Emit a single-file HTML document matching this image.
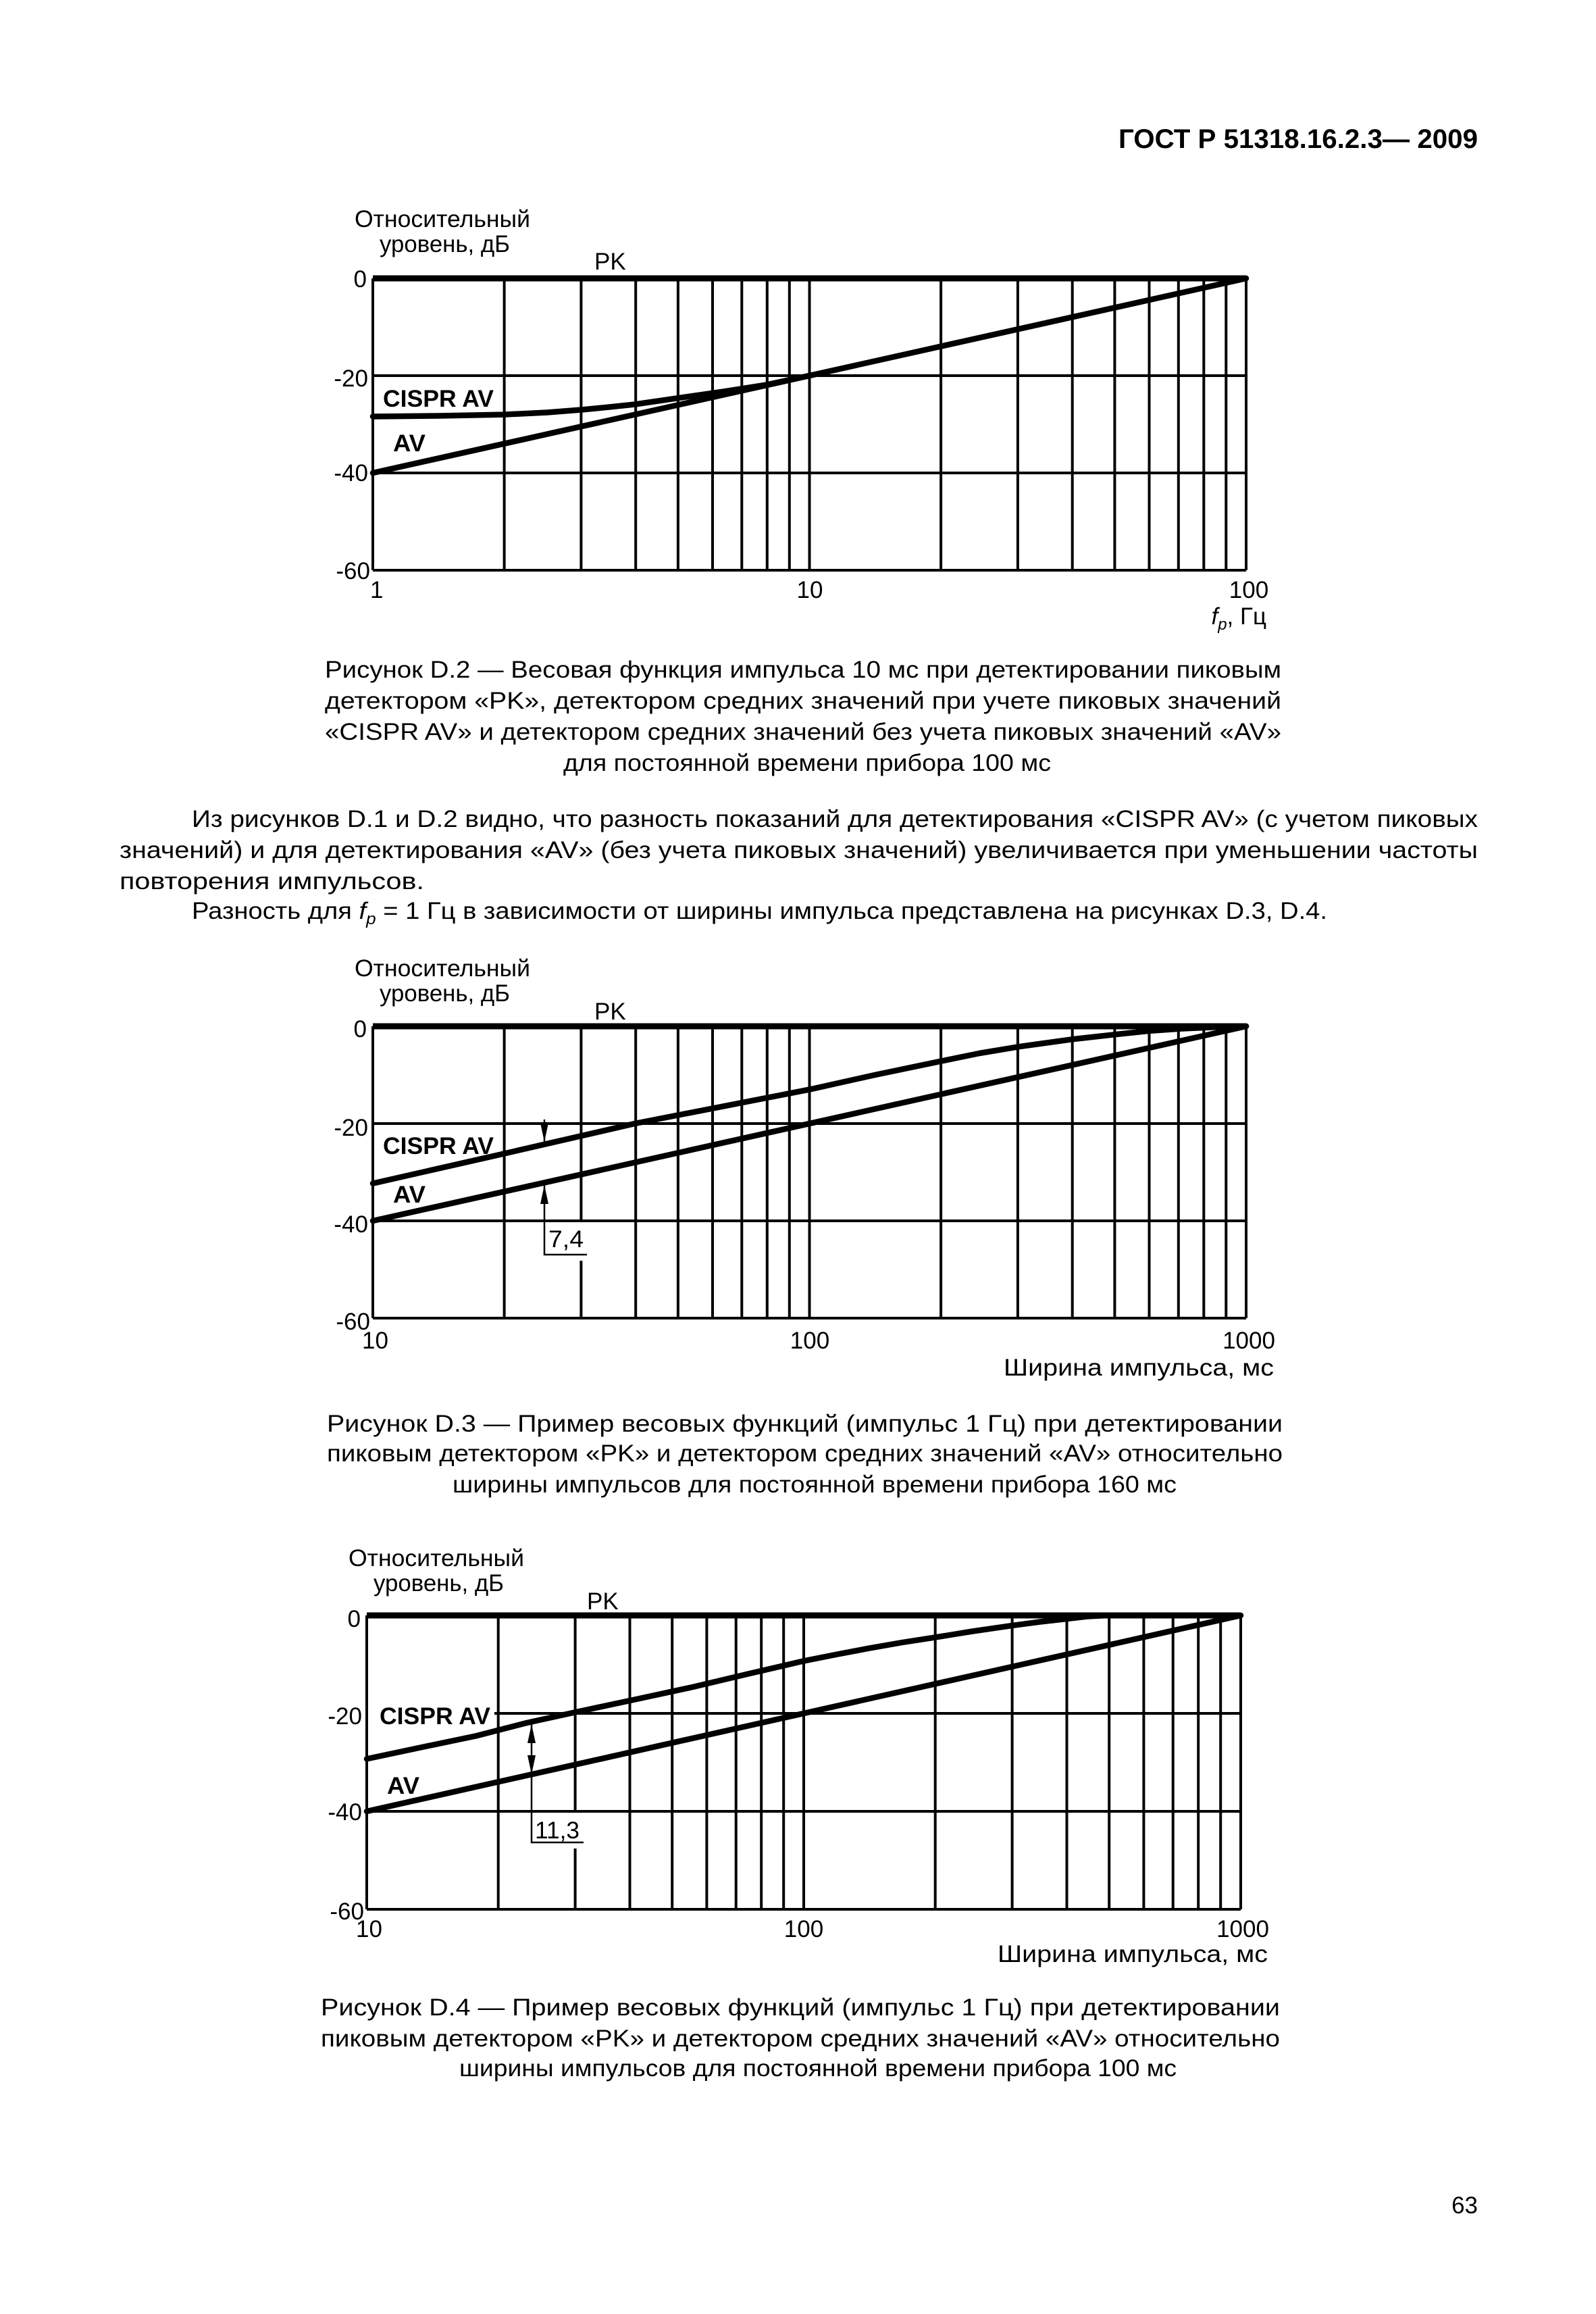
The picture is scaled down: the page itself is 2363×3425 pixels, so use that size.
<!DOCTYPE html>
<html><head><meta charset="utf-8"><style>
html,body{margin:0;padding:0;background:#fff;}
svg{display:block;}
text{font-family:"Liberation Sans",Arial,sans-serif;fill:#000;}
.t{font-size:35px;}
.b{font-weight:bold;}
.g{stroke:#000;stroke-width:4;fill:none;}
.pk{stroke:#000;stroke-width:9;fill:none;}
.c{stroke:#000;stroke-width:8.5;fill:none;stroke-linejoin:round;stroke-linecap:round;}
.a{stroke:#000;stroke-width:2.5;fill:none;}
</style></head><body>
<svg width="2363" height="3425" viewBox="0 0 2363 3425" xmlns="http://www.w3.org/2000/svg">
<rect width="2363" height="3425" fill="#fff"/>
<text x="2188" y="219" text-anchor="end" class="b" font-size="40" textLength="532" lengthAdjust="spacingAndGlyphs">ГОСТ Р 51318.16.2.3— 2009</text>

<!-- CHART 1 -->
<g>
<path class="g" d="M746.6 412V844M860.4 412V844M941.2 412V844M1003.9 412V844M1055 412V844M1098.3 412V844M1135.8 412V844M1168.8 412V844M1198.5 412V844M1393.1 412V844M1506.9 412V844M1587.7 412V844M1650.4 412V844M1701.5 412V844M1744.8 412V844M1782.3 412V844M1815.3 412V844M1845 412V844"/>
<path class="g" d="M552 556H1845M552 700H1845M552 844H1845M552 412V844"/>
<path class="pk" d="M552 412H1845"/>
<path class="c" d="M552 700L1845 412"/>
<polyline class="c" points="552,616.5 650,615.5 746,613.6 810,610.5 862.3,606.4 902,602.5 939.9,598.5 1004.6,589.1 1069.2,579.8 1133.9,569.7 1198.5,556"/>
<text x="525" y="336" class="t" textLength="260" lengthAdjust="spacingAndGlyphs">Относительный</text>
<text x="562" y="373" class="t" textLength="193" lengthAdjust="spacingAndGlyphs">уровень, дБ</text>
<text x="880" y="399" class="t">PK</text>
<text x="543" y="425" class="t" text-anchor="end">0</text>
<text x="545" y="572" class="t" text-anchor="end">-20</text>
<text x="545" y="712" class="t" text-anchor="end">-40</text>
<text x="548" y="857" class="t" text-anchor="end">-60</text>
<text x="548" y="885" class="t">1</text>
<text x="1199" y="885" class="t" text-anchor="middle">10</text>
<text x="1849" y="885" class="t" text-anchor="middle">100</text>
<text x="1875" y="924" class="t" text-anchor="end"><tspan font-style="italic">f</tspan><tspan font-size="24" font-style="italic" dy="8">p</tspan><tspan dy="-8">, Гц</tspan></text>
<text x="567" y="602" class="t b" textLength="164" lengthAdjust="spacingAndGlyphs">CISPR AV</text>
<text x="582" y="668" class="t b" textLength="48" lengthAdjust="spacingAndGlyphs">AV</text>
</g>

<text x="481" y="1003" class="t" textLength="1416" lengthAdjust="spacingAndGlyphs">Рисунок D.2 — Весовая функция импульса 10 мс при детектировании пиковым</text>
<text x="481" y="1049" class="t" textLength="1416" lengthAdjust="spacingAndGlyphs">детектором «PK», детектором средних значений при учете пиковых значений</text>
<text x="481" y="1095" class="t" textLength="1416" lengthAdjust="spacingAndGlyphs">«CISPR AV» и  детектором  средних  значений без учета пиковых значений «AV»</text>
<text x="834" y="1141" class="t" textLength="722" lengthAdjust="spacingAndGlyphs">для постоянной времени прибора 100 мс</text>

<text x="284" y="1224" class="t" textLength="1904" lengthAdjust="spacingAndGlyphs">Из рисунков D.1 и D.2 видно,  что   разность показаний для детектирования «CISPR AV» (с учетом пиковых</text>
<text x="177" y="1270" class="t" textLength="2011" lengthAdjust="spacingAndGlyphs">значений) и для детектирования «AV» (без учета пиковых значений) увеличивается при уменьшении частоты</text>
<text x="177" y="1316" class="t" textLength="451" lengthAdjust="spacingAndGlyphs">повторения импульсов.</text>
<text x="284" y="1360" class="t" textLength="1681" lengthAdjust="spacingAndGlyphs">Разность для <tspan font-style="italic">f</tspan><tspan font-size="24" font-style="italic" dy="8">p</tspan><tspan dy="-8"> = 1 Гц в зависимости от ширины импульса представлена на рисунках D.3,  D.4.</tspan></text>

<!-- CHART 2 -->
<g>
<path class="g" d="M746.6 1519V1951M941.2 1519V1951M1003.9 1519V1951M1055 1519V1951M1098.3 1519V1951M1135.8 1519V1951M1168.8 1519V1951M1198.5 1519V1951M1393.1 1519V1951M1506.9 1519V1951M1587.7 1519V1951M1650.4 1519V1951M1701.5 1519V1951M1744.8 1519V1951M1782.3 1519V1951M1815.3 1519V1951M1845 1519V1951"/>
<path class="g" d="M860.4 1519V1807M860.4 1866V1951"/>
<path class="g" d="M552 1663H1845M552 1807H1845M552 1951H1845M552 1519V1951"/>
<path class="pk" d="M552 1519H1845"/>
<path class="c" d="M552 1807L1845 1519"/>
<polyline class="c" points="552,1751.6 746,1707.6 939.9,1663 1069.2,1637.8 1198.5,1612.6 1295.5,1591 1392.5,1570.8 1450,1559 1508.8,1549.2 1586.4,1538.4 1651,1531.2 1700,1526 1748,1522.6 1800,1520.3 1845,1519"/>
<path class="a" d="M806 1657V1690M806 1752V1857H869"/>
<path d="M800 1662L806 1690L812 1662Z" fill="#000"/>
<path d="M800 1782L806 1754L812 1782Z" fill="#000"/>
<text x="812" y="1846" class="t" textLength="52" lengthAdjust="spacingAndGlyphs">7,4</text>
<text x="525" y="1445" class="t" textLength="260" lengthAdjust="spacingAndGlyphs">Относительный</text>
<text x="562" y="1482" class="t" textLength="193" lengthAdjust="spacingAndGlyphs">уровень, дБ</text>
<text x="880" y="1509" class="t">PK</text>
<text x="543" y="1535" class="t" text-anchor="end">0</text>
<text x="545" y="1681" class="t" text-anchor="end">-20</text>
<text x="545" y="1824" class="t" text-anchor="end">-40</text>
<text x="548" y="1968" class="t" text-anchor="end">-60</text>
<text x="536" y="1996" class="t">10</text>
<text x="1199" y="1996" class="t" text-anchor="middle">100</text>
<text x="1849" y="1996" class="t" text-anchor="middle">1000</text>
<text x="1886" y="2036" class="t" text-anchor="end" textLength="400" lengthAdjust="spacingAndGlyphs">Ширина импульса, мс</text>
<text x="567" y="1708" class="t b" textLength="164" lengthAdjust="spacingAndGlyphs">CISPR AV</text>
<text x="582" y="1780" class="t b" textLength="48" lengthAdjust="spacingAndGlyphs">AV</text>
</g>

<text x="484" y="2119" class="t" textLength="1415" lengthAdjust="spacingAndGlyphs">Рисунок D.3 — Пример весовых функций (импульс 1 Гц) при детектировании</text>
<text x="484" y="2163" class="t" textLength="1415" lengthAdjust="spacingAndGlyphs">пиковым  детектором «PK» и детектором средних значений «AV» относительно</text>
<text x="670" y="2209" class="t" textLength="1072" lengthAdjust="spacingAndGlyphs">ширины импульсов для постоянной времени прибора 160 мс</text>

<!-- CHART 3 -->
<g>
<path class="g" d="M737.7 2391V2826M932.5 2391V2826M995.2 2391V2826M1046.4 2391V2826M1089.7 2391V2826M1127.2 2391V2826M1160.2 2391V2826M1190 2391V2826M1384.7 2391V2826M1498.6 2391V2826M1579.5 2391V2826M1642.2 2391V2826M1693.4 2391V2826M1736.7 2391V2826M1774.2 2391V2826M1807.2 2391V2826M1837 2391V2826"/>
<path class="g" d="M851.6 2391V2681M851.6 2736V2826"/>
<path class="g" d="M732 2536H1837M543 2681H1837M543 2826H1837M543 2391V2826"/>
<path class="pk" d="M543 2391H1837"/>
<path class="c" d="M543 2681L1837 2391"/>
<polyline class="c" points="543,2603.4 625,2586 704.8,2569.4 780,2550 850.3,2534.6 940,2515.5 1023,2497.6 1110,2477 1190,2458.4 1240,2448.5 1287,2439.6 1336,2431 1384.1,2423.6 1440,2414.5 1497.3,2406.2 1540,2400.5 1578.6,2396.1 1610,2392.5 1640,2391"/>
<path class="a" d="M787 2552V2727H864"/>
<path d="M781 2580L787 2552L793 2580Z" fill="#000"/>
<path d="M781 2598L787 2626L793 2598Z" fill="#000"/>
<text x="792" y="2721" class="t" textLength="66" lengthAdjust="spacingAndGlyphs">11,3</text>
<text x="516" y="2318" class="t" textLength="260" lengthAdjust="spacingAndGlyphs">Относительный</text>
<text x="553" y="2355" class="t" textLength="193" lengthAdjust="spacingAndGlyphs">уровень, дБ</text>
<text x="869" y="2382" class="t">PK</text>
<text x="534" y="2408" class="t" text-anchor="end">0</text>
<text x="536" y="2552" class="t" text-anchor="end">-20</text>
<text x="536" y="2694" class="t" text-anchor="end">-40</text>
<text x="539" y="2841" class="t" text-anchor="end">-60</text>
<text x="527" y="2867" class="t">10</text>
<text x="1190" y="2867" class="t" text-anchor="middle">100</text>
<text x="1840" y="2867" class="t" text-anchor="middle">1000</text>
<text x="1877" y="2904" class="t" text-anchor="end" textLength="400" lengthAdjust="spacingAndGlyphs">Ширина импульса, мс</text>
<text x="562" y="2552" class="t b" textLength="164" lengthAdjust="spacingAndGlyphs">CISPR AV</text>
<text x="573" y="2655" class="t b" textLength="48" lengthAdjust="spacingAndGlyphs">AV</text>
</g>

<text x="475" y="2983" class="t" textLength="1420" lengthAdjust="spacingAndGlyphs">Рисунок D.4 — Пример весовых функций (импульс 1 Гц) при детектировании</text>
<text x="475" y="3029" class="t" textLength="1420" lengthAdjust="spacingAndGlyphs">пиковым детектором «PK» и детектором  средних  значений «AV» относительно</text>
<text x="680" y="3073" class="t" textLength="1062" lengthAdjust="spacingAndGlyphs">ширины импульсов для постоянной времени прибора 100 мс</text>

<text x="2188" y="3276" class="t" text-anchor="end">63</text>
</svg>
</body></html>
